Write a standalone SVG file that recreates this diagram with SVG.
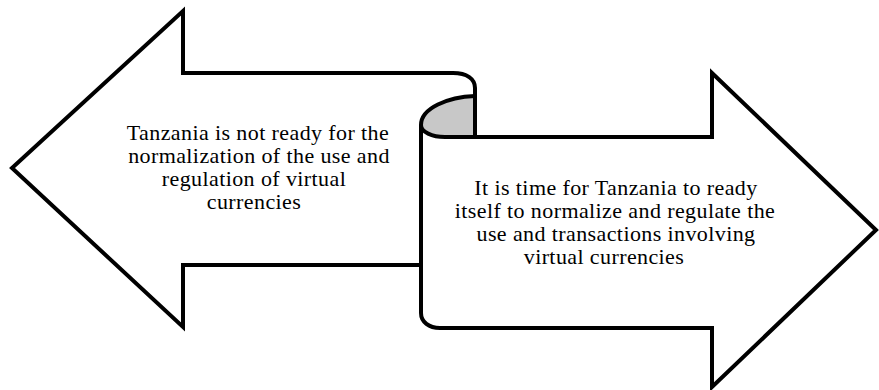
<svg xmlns="http://www.w3.org/2000/svg" width="879" height="390" viewBox="0 0 879 390">
<style>
.o{fill:none;stroke:#000;stroke-width:4;stroke-linejoin:miter;stroke-linecap:butt}
.w{fill:#fff;stroke:none}
</style>
<rect width="879" height="390" fill="#fff"/>
<g id="left-arrow">
<path class="w" d="M421,265 L183,265 L183,327 L12,168 L183,11 L183,73 L453,73 C467,73 475,79 475,88 L475,137 L421,137 Z"/>
<path class="o" d="M421,265 L183,265 L183,327 L12,168 L183,11 L183,73 L453,73 C467,73 475,79 475,88 L475,137"/>
<g font-family="Liberation Serif" font-size="22" letter-spacing="0.4" text-anchor="middle" fill="#000">
<text x="258" y="140">Tanzania is not ready for the</text>
<text x="259" y="163">normalization of the use and</text>
<text x="254" y="186">regulation of virtual</text>
<text x="254" y="209">currencies</text>
</g>
</g>
<g id="right-arrow">
<path class="w" d="M421,125 C421,132 432,137 445,137 L712,137 L712,73 L876,230 L712,387 L712,328 L440,328 C429,328 421,322 421,313 Z"/>
<path fill="#c8c8c8" stroke="none" d="M421,125 C421,108 448,97 475,96 L475,137 L445,137 C432,137 421,132 421,125 Z"/>
<path class="o" d="M475,96 C448,97 421,108 421,125 C421,132 432,137 445,137 L712,137 L712,73 L876,230 L712,387 L712,328 L440,328 C429,328 421,322 421,313 L421,125"/>
<path class="o" d="M475,88 L475,137"/>
<g font-family="Liberation Serif" font-size="22" letter-spacing="0.4" text-anchor="middle" fill="#000">
<text x="616" y="195">It is time for Tanzania to ready</text>
<text x="615" y="218">itself to normalize and regulate the</text>
<text x="616" y="241">use and transactions involving</text>
<text x="604" y="264">virtual currencies</text>
</g>
</g>
<g id="connectors"/>
</svg>
